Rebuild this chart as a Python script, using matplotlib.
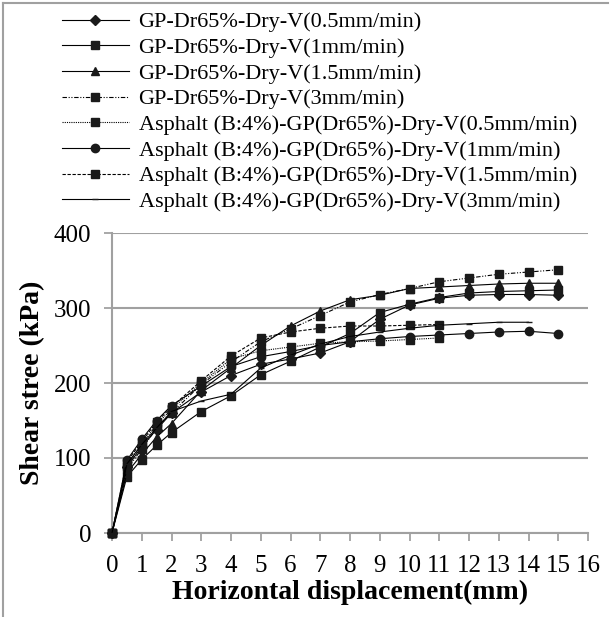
import numpy as np
import matplotlib.pyplot as plt
from matplotlib.lines import Line2D

# Data
x_full = [0, 0.5, 1, 1.5, 2, 3, 4, 5, 6, 7, 8, 9, 10, 11, 12, 13, 14, 15]
x_to11 = x_full[:14]
x_to14 = x_full[:17]

gp_05 = [0, 88, 115, 138, 160, 188, 210, 225, 232, 240, 255, 285, 304, 313, 317, 318, 318, 317]
gp_1 = [0, 75, 98, 117, 134, 162, 183, 211, 229, 248, 266, 294, 305, 314, 320, 322, 323, 324]
gp_15 = [0, 80, 105, 128, 146, 190, 220, 250, 276, 296, 311, 317, 326, 328, 330, 332, 333, 333]
gp_3 = [0, 85, 112, 140, 160, 198, 228, 255, 272, 290, 308, 318, 326, 335, 340, 345, 348, 351]
as_05 = [0, 90, 118, 145, 165, 200, 232, 243, 248, 253, 255, 256, 258, 260]
as_1 = [0, 97, 125, 150, 170, 196, 222, 235, 242, 250, 255, 259, 262, 264, 266, 268, 269, 266]
as_15 = [0, 95, 122, 148, 168, 203, 236, 260, 268, 273, 276, 276, 277, 278]
as_3 = [0, 92, 118, 140, 162, 176, 185, 220, 237, 252, 262, 268, 273, 277, 279, 281, 281]

labels = [
    'GP-Dr65%-Dry-V(0.5mm/min)',
    'GP-Dr65%-Dry-V(1mm/min)',
    'GP-Dr65%-Dry-V(1.5mm/min)',
    'GP-Dr65%-Dry-V(3mm/min)',
    'Asphalt (B:4%)-GP(Dr65%)-Dry-V(0.5mm/min)',
    'Asphalt (B:4%)-GP(Dr65%)-Dry-V(1mm/min)',
    'Asphalt (B:4%)-GP(Dr65%)-Dry-V(1.5mm/min)',
    'Asphalt (B:4%)-GP(Dr65%)-Dry-V(3mm/min)',
]
x_ticks = list(range(0, 17))
y_ticks = [0, 100, 200, 300, 400]

plt.rcParams['font.family'] = ['Liberation Serif', 'DejaVu Serif']

fig = plt.figure(figsize=(6.11, 6.17), dpi=100)
ax = fig.add_axes([112 / 611, 1 - 533 / 617, 476 / 611, 300 / 617])

series = [
    (x_full, gp_05, '-', 'D', 5),
    (x_full, gp_1, '-', 's', 6),
    (x_full, gp_15, '-', '^', 6),
    (x_full, gp_3, (0, (4, 1.5, 1, 1.5, 1, 1.5)), 's', 6),
    (x_to11, as_05, (0, (1, 1)), 's', 6),
    (x_full, as_1, '-', 'o', 6),
    (x_to11, as_15, (0, (3, 1.5)), 's', 6),
    (x_to14, as_3, '-', '_', 5),
]
handles = []
for (xs, ys, ls, mk, ms), lab in zip(series, labels):
    h, = ax.plot(xs, ys, color='black', linestyle=ls, linewidth=0.8,
                 marker=mk, markersize=ms, markeredgewidth=1.0,
                 markerfacecolor='#1a1a1a', markeredgecolor='#1a1a1a',
                 label=lab, clip_on=False, zorder=3)
    handles.append(h)

ax.set_xlim(0, 16)
ax.set_ylim(0, 400)
ax.set_xticks(x_ticks)
ax.set_yticks(y_ticks)
ax.tick_params(axis='both', labelsize=18, colors='#999999', labelcolor='black',
               direction='out', length=6, width=1.2)
ax.tick_params(axis='x', pad=10)
ax.tick_params(axis='y', pad=9)
ax.grid(axis='y', color='#a0a0a0', linewidth=1.5)
ax.set_axisbelow(True)
for side in ['top', 'right']:
    ax.spines[side].set_visible(False)
for side in ['left', 'bottom']:
    ax.spines[side].set_color('#a0a0a0')
    ax.spines[side].set_linewidth(1.5)

ax.set_xlabel('Horizontal displacement(mm)', fontsize=20, fontweight='bold', labelpad=2)
ax.set_ylabel('Shear stree (kPa)', fontsize=20, fontweight='bold', labelpad=6)

fig.legend(handles=handles, loc='upper left', bbox_to_anchor=(53 / 611, 1 - 3 / 617),
           frameon=False, fontsize=16, numpoints=1, handlelength=3.0,
           handletextpad=0.45, labelspacing=0.23, borderaxespad=0)

# light border round the picture
fig.add_artist(Line2D([3 / 611, 3 / 611], [0, 1 - 3 / 617], color='#a0a0a0', linewidth=1.5))
fig.add_artist(Line2D([3 / 611, 608 / 611], [1 - 3 / 617, 1 - 3 / 617], color='#a0a0a0', linewidth=1.5))

plt.savefig('out.png', dpi=100)
